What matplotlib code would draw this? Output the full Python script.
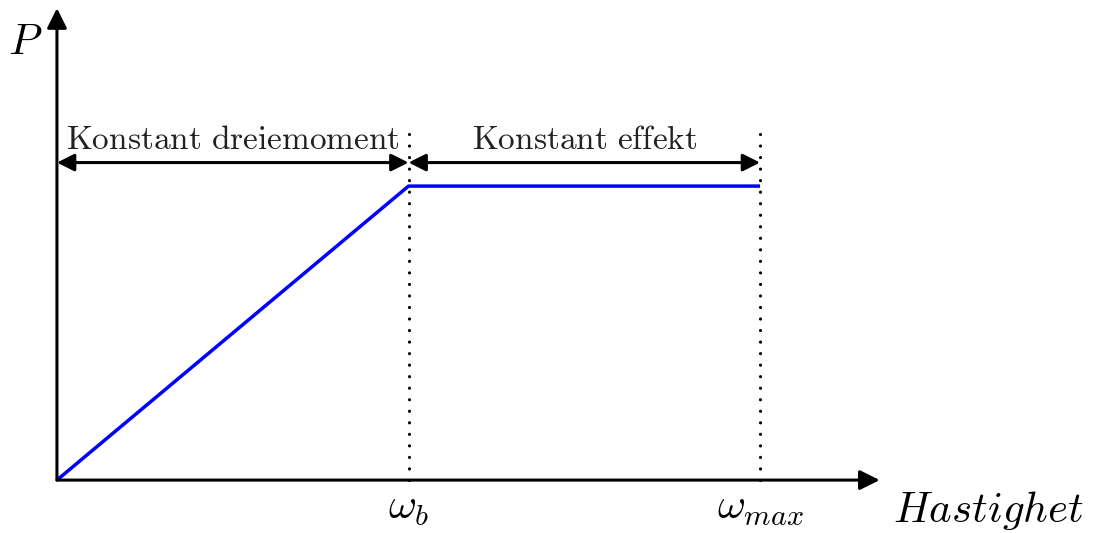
import matplotlib.pyplot as plt

plt.rcParams['mathtext.fontset'] = 'cm'

# base speed and max speed (normalised), power curve
omega_b = 1.0
omega_max = 2.0
omega = [0.0, omega_b, omega_max]
power = [0.0, 1.0, 1.0]

region_labels = ['Konstant dreiemoment', 'Konstant effekt']
tick_labels = [r'$\omega_b$', r'$\omega_{max}$']

fig = plt.figure(figsize=(10.93, 5.33), dpi=100)
ax = fig.add_axes([0, 0, 1, 1])
ax.set_xlim(-0.162, 2.947)
ax.set_ylim(-0.180, 1.633)
ax.axis('off')

# axes with arrow heads
ax.annotate('', xy=(2.34, 0), xytext=(0, 0),
            arrowprops=dict(arrowstyle='-|>', lw=2.2, color='black',
                            mutation_scale=30, shrinkA=0, shrinkB=0))
ax.annotate('', xy=(0, 1.605), xytext=(0, 0),
            arrowprops=dict(arrowstyle='-|>', lw=2.2, color='black',
                            mutation_scale=30, shrinkA=0, shrinkB=0))
ax.text(-0.09, 1.49, r'$P$', fontsize=31, ha='center', va='center')
ax.text(2.65, -0.105, r'$Hastighet$', fontsize=31, ha='center', va='center')

# power curve
ax.plot(omega, power, color='blue', lw=2.5, solid_capstyle='butt')

# dotted guides at the speed limits
for w, lab in zip([omega_b, omega_max], tick_labels):
    ax.plot([w, w], [0, 1.197], color='black', lw=2.3,
            linestyle=(0, (0.01, 3.6)), dash_capstyle='round')
    ax.text(w, -0.092, lab, fontsize=31, ha='center', va='center')

# region arrows and labels
bounds = [(0.0, omega_b), (omega_b, omega_max)]
for (a, b), lab in zip(bounds, region_labels):
    ax.annotate('', xy=(b, 1.08), xytext=(a, 1.08),
                arrowprops=dict(arrowstyle='<|-|>', lw=2.2, color='black',
                                mutation_scale=26, shrinkA=0, shrinkB=0))
    ax.text((a + b) / 2, 1.16, r'$\mathrm{' + lab.replace(' ', r'\ ') + '}$',
            fontsize=24, ha='center', va='center', color='#222222')

plt.savefig('out.png', dpi=100)
